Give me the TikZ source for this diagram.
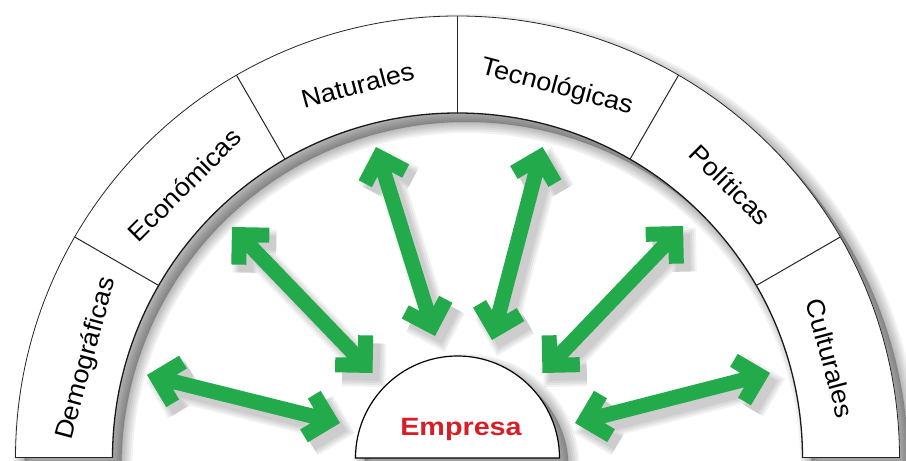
\documentclass[tikz,border=0pt]{standalone}
\usepackage{fontspec}
\setmainfont{Liberation Sans}
\newfontfamily\lblfont[FakeStretch=1.06]{Liberation Sans}
\newfontfamily\empfont[FakeStretch=1.15]{Liberation Sans}
\usetikzlibrary{calc}
\definecolor{arrowgreen}{RGB}{35,170,75}
\definecolor{empred}{RGB}{215,30,38}
\newcommand\lblstyle{\lblfont\fontsize{25.5pt}{30pt}\selectfont}
\newcommand\dblarrow[3]{%
  \draw[#1] let \p1=($(#2)!10.6pt!(#3)$), \p2=($(#3)!10.6pt!(#2)$),
      \n1={atan2(\y2-\y1,\x2-\x1)} in
    (\p1) -- (\p2)
    ($(\p1)+(\n1+45:30)$) -- (\p1) -- ($(\p1)+(\n1-45:30)$)
    ($(\p2)+(\n1+135:30)$) -- (\p2) -- ($(\p2)+(\n1-135:30)$);
}
\newcommand\ringpath{($(C)+(442,0)$) arc[start angle=0, end angle=180, radius=442]
   -- ($(C)+(-345,0)$) arc[start angle=180, end angle=0, radius=345] -- cycle}
\newcommand\emppath{($(C)+(102,0)$) arc[start angle=0, end angle=180, radius=102] -- cycle}
\tikzset{
  arrowbody/.style={draw=arrowgreen, line width=15pt, line join=miter, line cap=butt},
  arrowshade/.style={draw=black, line width=#1, opacity=0.05, line join=miter, line cap=butt},
  shadelayer/.style={fill=black, draw=black, line width=#1, opacity=0.05, line join=round},
  ringedge/.style={draw=black!85, line width=0.8pt},
  inneredge/.style={draw=black!90, line width=1.3pt},
  divider/.style={draw=black!85, line width=1pt},
  lbl/.style={font=\lblstyle, text=black, inner sep=0pt, anchor=base},
}
\begin{document}
\begin{tikzpicture}[x=1pt,y=1pt]
\useasboundingbox (0,0) rectangle (906,461);
\fill[white] (0,0) rectangle (906,461);
\clip (0,0) rectangle (906,461);
\coordinate (C) at (457.5,3);
% shadows of ring and Empresa
\begin{scope}[transform canvas={shift={(9pt,-9pt)}}]
  \foreach \w in {22,18,14,10,6,2} {\path[shadelayer=\w] \ringpath;}
  \foreach \w in {22,18,14,10,6,2} {\path[shadelayer=\w] \emppath;}
\end{scope}
% ring
\path[fill=white] \ringpath;
\draw[ringedge] ($(C)+(442,0)$) arc[start angle=0, end angle=180, radius=442];
\draw[inneredge] ($(C)+(345,0)$) arc[start angle=0, end angle=180, radius=345];
\draw[divider] ($(C)+(-442,0)$) -- ($(C)+(-345,0)$);
\draw[divider] ($(C)+(442,0)$) -- ($(C)+(345,0)$);
\foreach \a in {30,60,90,120,150} {\draw[divider] ($(C)+(\a:345)$) -- ($(C)+(\a:442)$);}
% labels
\node[lbl, rotate=75]  (l1) at ($(C)+(165:377)$) {Demográficas};
\node[lbl, rotate=45]  (l2) at ($(C)+(135:377)$) {Económicas};
\node[lbl, rotate=15]  (l3) at ($(C)+(105:377)$) {Naturales};
\node[lbl, rotate=-15] (l4) at ($(C)+(75:377)$)  {Tecnológicas};
\node[lbl, rotate=-45] (l5) at ($(C)+(45:377)$)  {Políticas};
\node[lbl, rotate=-75] (l6) at ($(C)+(15:377)$)  {Culturales};
% arrow endpoints
\coordinate (a1) at (147,86);    \coordinate (b1) at (340,38);
\coordinate (a2) at (232,234);   \coordinate (b2) at (372.5,88);
\coordinate (a3) at (376,314);   \coordinate (b3) at (435,125);
\coordinate (a4) at (542.5,314); \coordinate (b4) at (492,121);
\coordinate (a5) at (683,235);   \coordinate (b5) at (542.5,88);
\coordinate (a6) at (770,88);    \coordinate (b6) at (575,38);
% arrow shadows
\begin{scope}[transform canvas={shift={(7pt,-8pt)}}]
  \foreach \i in {1,...,6} {
    \foreach \w in {27,23,19,15} {\dblarrow{arrowshade=\w pt}{a\i}{b\i}}
  }
\end{scope}
% arrows
\foreach \i in {1,...,6} {\dblarrow{arrowbody}{a\i}{b\i}}
% Empresa
\path[fill=white, draw=black, line width=1.2pt] \emppath;
\node[font=\empfont\bfseries\fontsize{25pt}{29pt}\selectfont, text=empred, anchor=base] (emp) at (461,25) {Empresa};
\end{tikzpicture}
\end{document}
